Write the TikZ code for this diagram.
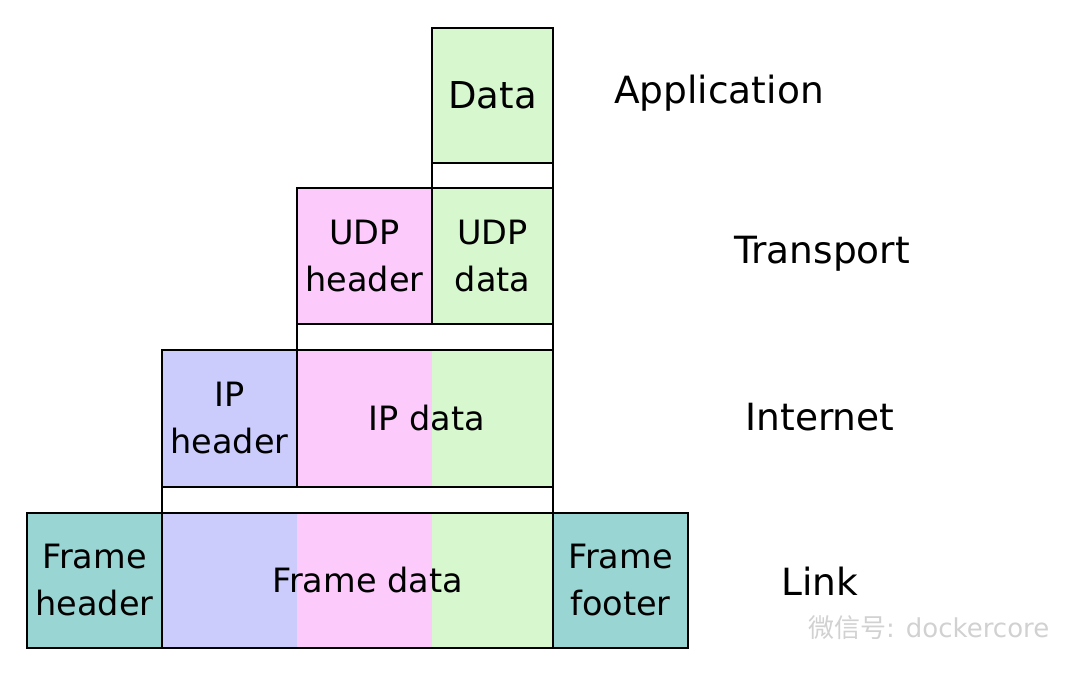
\documentclass[tikz,border=0pt]{standalone}
\usepackage{fontspec}
\setmainfont{DejaVu Sans}
\newfontfamily\cjkfont{Noto Sans CJK SC}
\definecolor{greenc}{HTML}{D7F7CF}
\definecolor{pinkc}{HTML}{FCCBFC}
\definecolor{bluec}{HTML}{CBCCFC}
\definecolor{tealc}{HTML}{99D5D2}
\begin{document}
\begin{tikzpicture}[x=1pt,y=-1pt,
  box/.style={draw=black, line width=2.8pt, rectangle, inner sep=0pt, align=center,
    font=\fontsize{33.5}{47}\selectfont},
  strip/.style={box, fill=white},
  layer/.style={font=\fontsize{37.5}{44}\selectfont, inner sep=0pt}]
\useasboundingbox (0,0) rectangle (1080,675);
% Application
\node[box, fill=greenc, minimum width=121pt, minimum height=135pt, font=\fontsize{37}{44}\selectfont] (data) at (492.5,95.5) {\raisebox{-2pt}{Data}};
\node[strip, minimum width=121pt, minimum height=25pt] (s1) at (492.5,175.5) {};
% Transport
\node[box, fill=pinkc, minimum width=135pt, minimum height=136pt] (udph) at (364.5,256) {\raisebox{-3pt}{UDP}\\\raisebox{-3pt}{header}};
\node[box, fill=greenc, minimum width=121pt, minimum height=136pt] (udpd) at (492.5,256) {\raisebox{-3pt}{UDP}\\\raisebox{-3pt}{data}};
\node[strip, minimum width=256pt, minimum height=26pt] (s2) at (425,337) {};
% Internet
\node[box, fill=bluec, minimum width=135pt, minimum height=137pt] (iph) at (229.5,418.5) {\raisebox{-2pt}{IP}\\\raisebox{-2pt}{header}};
\node[box, minimum width=256pt, minimum height=137pt,
  path picture={
    \fill[pinkc] (path picture bounding box.north west) rectangle ([xshift=135pt]path picture bounding box.south west);
    \fill[greenc] ([xshift=135pt]path picture bounding box.north west) rectangle (path picture bounding box.south east);
  }] (ipd) at (425,418.5) {\hspace*{4pt}IP data};
\node[strip, minimum width=391pt, minimum height=26pt] (s3) at (357.5,500) {};
% Link
\node[box, fill=tealc, minimum width=135pt, minimum height=135pt] (fh) at (94.5,580.5) {\raisebox{-2pt}{Frame}\\\raisebox{-2pt}{header}};
\node[box, minimum width=391pt, minimum height=135pt,
  path picture={
    \fill[bluec] (path picture bounding box.north west) rectangle ([xshift=135pt]path picture bounding box.south west);
    \fill[pinkc] ([xshift=135pt]path picture bounding box.north west) rectangle ([xshift=270pt]path picture bounding box.south west);
    \fill[greenc] ([xshift=270pt]path picture bounding box.north west) rectangle (path picture bounding box.south east);
  }] (fd) at (357.5,580.5) {\hspace*{20pt}Frame data};
\node[box, fill=tealc, minimum width=135pt, minimum height=135pt] (ff) at (620.5,580.5) {\raisebox{-2pt}{Frame}\\\raisebox{-2pt}{footer}};
% layer labels
\node[layer] (app) at (719,93) {Application};
\node[layer] (tra) at (822,254) {Transport};
\node[layer] (int) at (820,417) {Internet};
\node[layer] (lnk) at (820,581) {Link};
% watermark
\node[anchor=west, text=black!18, font=\fontsize{26}{30}\selectfont, inner sep=0pt] (wm) at (808,628) {{\cjkfont 微信号}: dockercore};
\end{tikzpicture}
\end{document}
